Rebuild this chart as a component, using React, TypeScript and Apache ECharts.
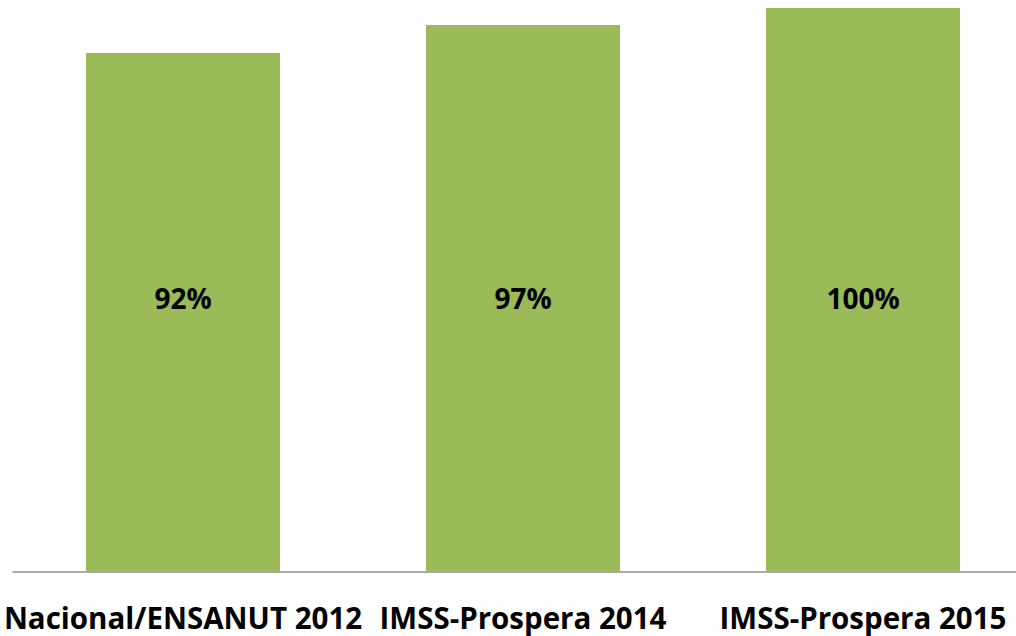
import React, { useEffect, useRef } from "react";
import * as echarts from "echarts";

const categories = ["Nacional/ENSANUT 2012", "IMSS-Prospera 2014", "IMSS-Prospera 2015"];
const values = [92, 97, 100];

export default function App() {
  const ref = useRef<HTMLDivElement>(null);
  useEffect(() => {
    document.body.style.margin = "0";
    const chart = echarts.init(ref.current!, null, { renderer: "svg" });
    chart.setOption({
      animation: false,
      backgroundColor: "#ffffff",
      grid: { left: 13, width: 1020, top: 8, height: 564, containLabel: false, outerBoundsMode: "none" },
      xAxis: {
        type: "category",
        data: categories,
        axisLine: { show: true, lineStyle: { color: "#8e8e8e", width: 1.5 } },
        axisTick: { show: false },
        axisLabel: {
          interval: 0,
          margin: 30,
          color: "#000000",
          fontFamily: "Open Sans",
          fontWeight: "bold",
          fontSize: 29.5,
        },
      },
      yAxis: {
        type: "value",
        min: 0,
        max: 100,
        show: false,
        splitLine: { show: false },
      },
      series: [
        {
          type: "bar",
          data: values,
          barWidth: 194,
          itemStyle: { color: "#9BBB59" },
          label: {
            show: true,
            position: "insideBottom",
            distance: 260,
            formatter: "{c}%",
            color: "#000000",
            fontFamily: "Open Sans",
            fontWeight: "bold",
            fontSize: 28,
          },
        },
      ],
    });
    return () => chart.dispose();
  }, []);
  return <div ref={ref} style={{ width: 1016, height: 636 }} />;
}
